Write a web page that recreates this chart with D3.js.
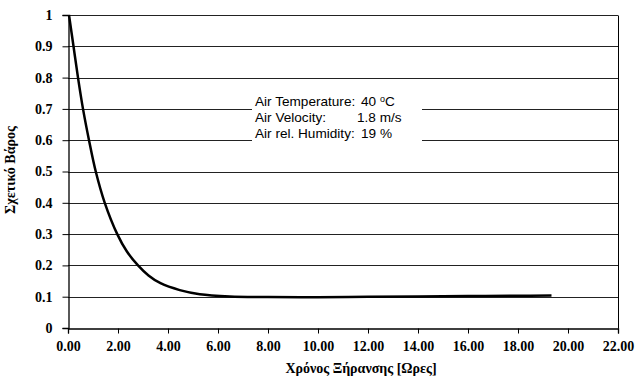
<!DOCTYPE html>
<html>
<head>
<meta charset="utf-8">
<script src="https://cdn.jsdelivr.net/npm/d3@7"></script>
<style>
  body { margin: 0; background: #fff; }
  svg { display: block; }
</style>
</head>
<body>
<script>
// drying time [hours] and relative weight
var hours = [0.04, 0.22, 0.40, 0.60, 0.84, 1.11, 1.47, 1.97, 2.35, 2.80, 3.22, 3.70, 4.47, 5.27, 6.47, 8.00, 10.00, 12.00, 14.00, 16.00, 18.00, 19.34];
var weight = [1.0, 0.9, 0.8, 0.7, 0.6, 0.5, 0.4, 0.3, 0.245, 0.2, 0.168, 0.143, 0.121, 0.108, 0.101, 0.099, 0.098, 0.100, 0.101, 0.102, 0.103, 0.104];

var xTicks = [0, 2, 4, 6, 8, 10, 12, 14, 16, 18, 20, 22];
var yTicks = [0, 0.1, 0.2, 0.3, 0.4, 0.5, 0.6, 0.7, 0.8, 0.9, 1];

var noteLines = [
    { label: 'Air Temperature:', value: '40 ', sup: 'o', unit: 'C' },
    { label: 'Air Velocity:', value: '1.8 m/s' },
    { label: 'Air rel. Humidity:', value: '19 %' }
];

var SERIF = '"Liberation Serif", "Times New Roman", Times, serif',
    SANS = '"Liberation Sans", Arial, Helvetica, sans-serif';

var width = 638, height = 385;
var margin = { top: 15, right: 20, bottom: 57, left: 68 };

var svg = d3.select('body').append('svg')
    .attr('width', width)
    .attr('height', height);

var x = d3.scaleLinear().domain([0, 22]).range([margin.left, width - margin.right]);
var y = d3.scaleLinear().domain([0, 1]).range([height - margin.bottom, margin.top]);

// horizontal gridlines
svg.append('g')
    .selectAll('line')
    .data(yTicks.filter(function (d) { return d > 0; }))
    .enter().append('line')
    .attr('x1', x(0)).attr('x2', x(22))
    .attr('y1', function (d) { return Math.round(y(d)) + 0.5; })
    .attr('y2', function (d) { return Math.round(y(d)) + 0.5; })
    .attr('stroke', '#222')
    .attr('stroke-width', 1);

// right border
svg.append('line')
    .attr('x1', Math.round(x(22)) + 0.5).attr('x2', Math.round(x(22)) + 0.5)
    .attr('y1', Math.round(y(1)) + 0.5).attr('y2', Math.round(y(0)) + 0.5)
    .attr('stroke', '#000');

// annotation box (white, hides gridlines behind it)
var box = svg.append('g');
box.append('rect')
    .attr('x', 252).attr('y', 92)
    .attr('width', 170).attr('height', 55)
    .attr('fill', '#fff');

var noteText = box.selectAll('g')
    .data(noteLines)
    .enter().append('g')
    .attr('transform', function (d, i) { return 'translate(0,' + (106 + i * 16) + ')'; })
    .attr('font-family', SANS)
    .attr('font-size', '13.6px');

noteText.append('text')
    .attr('x', 255)
    .text(function (d) { return d.label; });

var valText = noteText.append('text')
    .attr('x', function (d, i) { return i === 1 ? 357 : 361; });
valText.append('tspan').text(function (d) { return d.value; });
valText.filter(function (d) { return d.sup; })
    .append('tspan').attr('font-size', '9px').attr('dy', -4).text(function (d) { return d.sup; });
valText.filter(function (d) { return d.unit; })
    .append('tspan').attr('dy', 4).text(function (d) { return d.unit; });

// axes
var xAxis = svg.append('g')
    .attr('transform', 'translate(0,' + (Math.round(y(0)) + 0.5) + ')')
    .call(d3.axisBottom(x).tickValues(xTicks).tickSize(5).tickPadding(8)
        .tickFormat(function (d) { return d3.format('.2f')(d); }));

var yAxis = svg.append('g')
    .attr('transform', 'translate(' + (Math.round(x(0)) + 0.5) + ',0)')
    .call(d3.axisLeft(y).tickValues(yTicks).tickSize(6).tickPadding(10)
        .tickFormat(function (d) { return d === 0 || d === 1 ? d : d3.format('.1f')(d); }));

[xAxis, yAxis].forEach(function (a) {
    a.attr('font-family', SERIF).attr('font-size', 14).attr('font-weight', 'bold');
    a.select('.domain').attr('stroke', '#000').attr('stroke-width', 1.3);
    a.selectAll('.tick line').attr('stroke', '#000');
    a.selectAll('.tick text').attr('fill', '#000');
});

// the curve
var line = d3.line()
    .x(function (d) { return x(d[0]); })
    .y(function (d) { return y(d[1]); })
    .curve(d3.curveCatmullRom.alpha(0.5));

svg.append('path')
    .datum(hours.map(function (h, i) { return [h, weight[i]]; }))
    .attr('d', line)
    .attr('fill', 'none')
    .attr('stroke', '#000')
    .attr('stroke-width', 2.5)
    .attr('stroke-linejoin', 'round');

// axis titles
svg.append('text')
    .attr('font-family', SERIF).attr('font-weight', 'bold').attr('font-size', 14)
    .attr('text-anchor', 'middle')
    .attr('x', 361).attr('y', 373)
    .text('Χρόνος Ξήρανσης [Ωρες]');

svg.append('text')
    .attr('font-family', SERIF).attr('font-weight', 'bold').attr('font-size', 14)
    .attr('text-anchor', 'middle')
    .attr('transform', 'translate(15,170) rotate(-90)')
    .text('Σχετικό Βάρος');
</script>
</body>
</html>
